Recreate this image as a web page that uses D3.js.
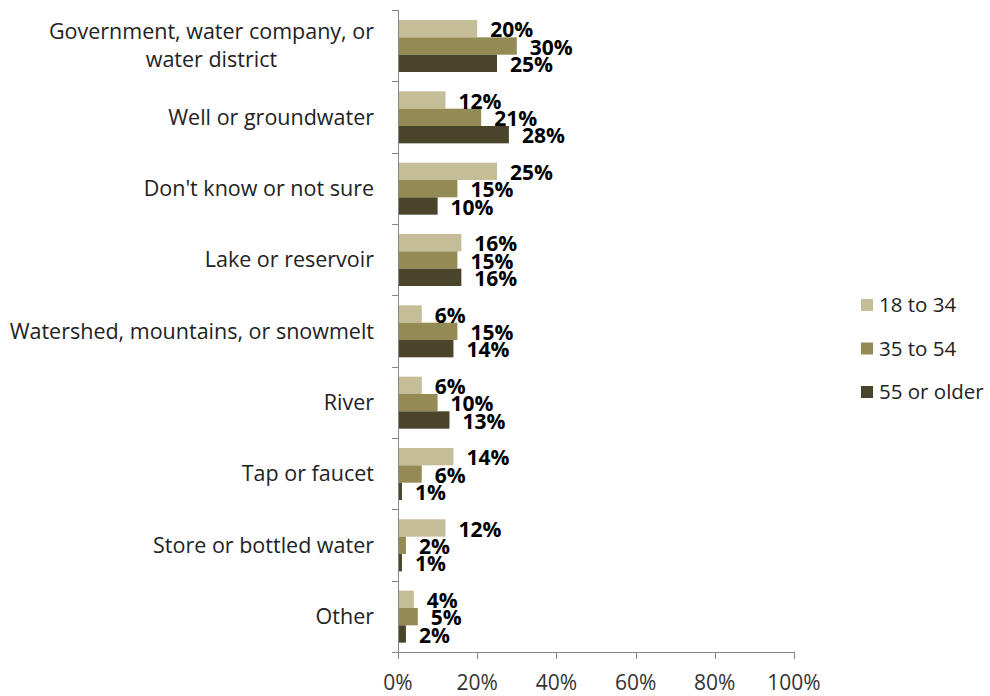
<!DOCTYPE html>
<html><head><meta charset="utf-8">
<script src="https://cdn.jsdelivr.net/npm/d3@7"></script>
<style>body{margin:0;background:#fff;} text{font-family:"Open Sans", sans-serif;}</style>
</head><body>
<svg id="c" width="990" height="696"></svg>
<script>
const categories = [["Government, water company, or","water district"],["Well or groundwater"],["Don't know or not sure"],["Lake or reservoir"],["Watershed, mountains, or snowmelt"],["River"],["Tap or faucet"],["Store or bottled water"],["Other"]];
const seriesNames = ["18 to 34","35 to 54","55 or older"];
const s18to34 = [20,12,25,16,6,6,14,12,4];
const s35to54 = [30,21,15,15,15,10,6,2,5];
const s55plus = [25,28,10,16,14,13,1,1,2];
const tickValues = [0,20,40,60,80,100];
const colors = ["#C4BD97","#948A54","#4A452A"];
const series = [s18to34,s35to54,s55plus];

const svg = d3.select("#c");
const x = d3.scaleLinear().domain([0,100]).range([398,794]);
const y = d3.scaleBand().domain(d3.range(categories.length)).range([10,652]).paddingInner(0).paddingOuter(0);
const inner = d3.scaleBand().domain([0,1,2]).range([10,62]);

// bars
const labels = svg.append("g");
categories.forEach((c,i)=>{
  series.forEach((s,k)=>{
    const y0 = y(i)+inner(k);
    svg.append("rect").attr("x",x(0)).attr("y",y0).attr("width",x(s[i])-x(0)).attr("height",inner.bandwidth()).attr("fill",colors[k]);
    labels.append("text").attr("x",x(s[i])+13).attr("y",y0+inner.bandwidth()/2+8.5)
      .attr("font-size",21).attr("font-weight","bold").attr("fill","#000").text(s[i]+"%");
  });
});
labels.raise();

// axes
const ax = svg.append("g").attr("stroke","#868686").attr("stroke-width",1).attr("fill","none");
ax.append("line").attr("x1",x(0)+0.5).attr("x2",x(0)+0.5).attr("y1",10).attr("y2",652);
ax.append("line").attr("x1",x(0)).attr("x2",x(100)+0.5).attr("y1",652.5).attr("y2",652.5);
d3.range(categories.length+1).forEach(i=>{
  const yy = Math.round(i<categories.length? y(i): 652)+0.5;
  ax.append("line").attr("x1",x(0)-6).attr("x2",x(0)).attr("y1",yy).attr("y2",yy);
});
tickValues.forEach(t=>{
  ax.append("line").attr("x1",Math.round(x(t))+0.5).attr("x2",Math.round(x(t))+0.5).attr("y1",652).attr("y2",659);
  svg.append("text").attr("x",x(t)).attr("y",690).attr("text-anchor","middle").attr("font-size",21).attr("fill","#333").text(t+"%");
});

// category labels (multi-line blocks right-aligned, lines centered)
categories.forEach((c,i)=>{
  const cy = y(i)+y.bandwidth()/2;
  const n = c.length;
  const g = svg.append("g");
  const ts = c.map((line,j)=> g.append("text").attr("y",cy+7.5+(j-(n-1)/2)*28)
      .attr("font-size",21.5).attr("fill","#222").text(line));
  const w = d3.max(ts, t=>t.node().getComputedTextLength());
  ts.forEach(t=>t.attr("x",374-w/2).attr("text-anchor","middle"));
});

// legend
seriesNames.forEach((n,k)=>{
  const ly = 305+k*43.5;
  svg.append("rect").attr("x",861).attr("y",ly-6).attr("width",12).attr("height",12).attr("fill",colors[k]);
  svg.append("text").attr("x",879).attr("y",ly+7).attr("font-size",20.5).attr("fill","#222").text(n);
});
</script>
</body></html>
